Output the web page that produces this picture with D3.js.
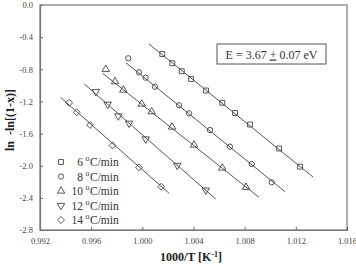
<!DOCTYPE html>
<html>
<head>
<meta charset="utf-8">
<script src="https://cdn.jsdelivr.net/npm/d3@7"></script>
<style>
body { margin: 0; background: #fff; }
svg { display: block; }
</style>
</head>
<body>
<div class="Graph"></div>
<script>
// heating rates (legend)
var rates = ["6", "8", "10", "12", "14"];

// 1000/T values for each series
var x6 = [1.00156, 1.00234, 1.00308, 1.00381, 1.00498, 1.00625, 1.00725, 1.00842, 1.01069, 1.01233];
var y6 = [-0.610, -0.725, -0.824, -0.921, -1.064, -1.216, -1.344, -1.487, -1.786, -2.012];
var x8 = [0.99890, 0.99974, 1.00026, 1.00099, 1.00287, 1.00365, 1.00529, 1.00685, 1.00855, 1.01011];
var y8 = [-0.663, -0.837, -0.905, -1.017, -1.248, -1.348, -1.556, -1.763, -1.979, -2.206];
var x10 = [0.99714, 0.99786, 0.99851, 0.99995, 1.00073, 1.00232, 1.00404, 1.00625, 1.00811];
var y10 = [-0.800, -0.954, -1.058, -1.232, -1.328, -1.518, -1.742, -2.028, -2.268];
var x12 = [0.99636, 0.99729, 0.99812, 0.99896, 1.00026, 1.00273, 1.00496];
var y12 = [-1.079, -1.236, -1.381, -1.472, -1.668, -1.997, -2.304];
var x14 = [0.99428, 0.99487, 0.99591, 0.99767, 0.99974, 1.00148];
var y14 = [-1.217, -1.335, -1.493, -1.748, -2.020, -2.261];

// fitted line ends (start x, start y, end x, end y), same order as rates
var fitX1 = [1.00052, 0.99872, 0.99690, 0.99546, 0.99360];
var fitY1 = [-0.485, -0.718, -0.850, -0.983, -1.149];
var fitX2 = [1.01337, 1.01115, 1.00912, 1.00574, 1.00209];
var fitY2 = [-2.144, -2.323, -2.393, -2.414, -2.343];

var xTicks = [0.992, 0.996, 1.000, 1.004, 1.008, 1.012, 1.016];
var yTicks = [0.0, -0.4, -0.8, -1.2, -1.6, -2.0, -2.4, -2.8];

var seriesX = [x6, x8, x10, x12, x14];
var seriesY = [y6, y8, y10, y12, y14];

var W = 356, H = 265;
var margin = { top: 5, right: 9, bottom: 35, left: 40 },
    width = W - margin.left - margin.right,
    height = H - margin.top - margin.bottom;

var serif = "'Liberation Serif', 'Times New Roman', serif";

var svg = d3.select(".Graph")
    .append("svg")
    .attr("width", W)
    .attr("height", H);

var g = svg.append("g")
    .attr("transform", "translate(" + margin.left + "," + margin.top + ")");

var x = d3.scaleLinear().domain([0.992, 1.016]).range([0, width]);
var y = d3.scaleLinear().domain([-2.8, 0]).range([height, 0]);

// frame
g.append("rect")
    .attr("width", width)
    .attr("height", height)
    .attr("fill", "none")
    .attr("stroke", "#777")
    .attr("stroke-width", 1.2);

var xAxis = g.append("g")
    .attr("transform", "translate(0," + height + ")")
    .call(d3.axisBottom(x).tickValues(xTicks).tickSize(-3).tickPadding(8)
        .tickFormat(d => d.toFixed(3)));
var yAxis = g.append("g")
    .call(d3.axisLeft(y).tickValues(yTicks).tickSize(-3).tickPadding(7)
        .tickFormat(d => d.toFixed(1)));

[xAxis, yAxis].forEach(a => {
    a.select(".domain").attr("stroke", "#777").attr("stroke-width", 1.2);
    a.selectAll(".tick line").attr("stroke", "#666");
    a.selectAll(".tick text")
        .attr("fill", "#444")
        .style("font-family", serif)
        .style("font-size", "8.5px");
});

// shapes
var shapes = [
    d3.symbol().type(d3.symbolSquare).size(24),
    d3.symbol().type(d3.symbolCircle).size(22),
    d3.symbol().type(d3.symbolTriangle).size(24),
    d3.symbol().type(d3.symbolTriangle).size(24),
    d3.symbol().type(d3.symbolDiamond2).size(30)
];
var rot = [0, 0, 0, 180, 0];

// fit lines
g.selectAll(".fit")
    .data(rates)
    .enter()
    .append("line")
    .attr("class", "fit")
    .attr("x1", (d, i) => x(fitX1[i]))
    .attr("y1", (d, i) => y(fitY1[i]))
    .attr("x2", (d, i) => x(fitX2[i]))
    .attr("y2", (d, i) => y(fitY2[i]))
    .attr("stroke", "#444")
    .attr("stroke-width", 0.9);

// points
for (var s = 0; s < rates.length; s++) {
    g.selectAll(".pt" + s)
        .data(seriesX[s])
        .enter()
        .append("path")
        .attr("class", "pt" + s)
        .attr("d", shapes[s])
        .attr("transform", (d, i) => "translate(" + x(d) + "," + y(seriesY[s][i]) + ") rotate(" + rot[s] + ")")
        .attr("fill", "none")
        .attr("stroke", "#444")
        .attr("stroke-width", 0.9);
}

// legend
var leg = svg.append("g").attr("transform", "translate(61,162)");
rates.forEach((r, i) => {
    var row = leg.append("g").attr("transform", "translate(0," + (i * 14.5) + ")");
    row.append("path")
        .attr("d", shapes[i])
        .attr("transform", "rotate(" + rot[i] + ")")
        .attr("fill", "none")
        .attr("stroke", "#444")
        .attr("stroke-width", 0.9);
    row.append("text")
        .attr("x", 22)
        .attr("y", 4)
        .attr("text-anchor", "end")
        .style("font-family", serif)
        .style("font-size", "11.5px")
        .attr("fill", "#333")
        .text(r);
    row.append("text")
        .attr("x", 24.5)
        .attr("y", -1)
        .style("font-family", serif)
        .style("font-size", "8px")
        .attr("fill", "#333")
        .text("o");
    row.append("text")
        .attr("x", 29)
        .attr("y", 4)
        .style("font-family", serif)
        .style("font-size", "11.5px")
        .attr("fill", "#333")
        .text("C/min");
});

// energy box
svg.append("rect")
    .attr("x", 217)
    .attr("y", 44)
    .attr("width", 109)
    .attr("height", 20)
    .attr("fill", "#fff")
    .attr("stroke", "#555")
    .attr("stroke-width", 1);
var et = svg.append("text")
    .attr("x", 271.5)
    .attr("y", 58.5)
    .attr("text-anchor", "middle")
    .style("font-family", serif)
    .style("font-size", "12px")
    .attr("fill", "#333");
et.append("tspan").text("E = 3.67 ");
et.append("tspan").attr("text-decoration", "underline").text("+");
et.append("tspan").text(" 0.07 eV");

// axis titles
svg.append("text")
    .attr("x", 191)
    .attr("y", 261)
    .attr("text-anchor", "middle")
    .style("font-family", serif)
    .style("font-size", "12px")
    .style("font-weight", "bold")
    .attr("fill", "#222")
    .html("1000/T [K<tspan dy='-4' font-size='8px'>-1</tspan><tspan dy='4'>]</tspan>");

svg.append("text")
    .attr("transform", "translate(14,120) rotate(-90)")
    .attr("text-anchor", "middle")
    .style("font-family", serif)
    .style("font-size", "12px")
    .style("font-weight", "bold")
    .attr("fill", "#222")
    .text("ln\u00a0\u00a0-ln[(1-x)]");
</script>
</body>
</html>
